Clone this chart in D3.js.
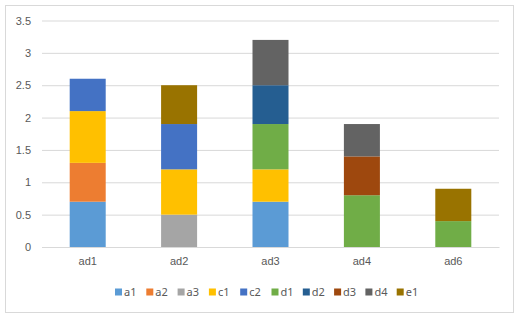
<!DOCTYPE html>
<html><head><meta charset="utf-8">
<script src="https://cdnjs.cloudflare.com/ajax/libs/d3/7.8.5/d3.min.js"></script>
<style>body{margin:0;background:#fff;}svg{display:block;font-family:"Noto Sans","DejaVu Sans",sans-serif;}</style>
</head><body>
<svg id="c" width="518" height="318"></svg>
<script>
const categories = ["ad1","ad2","ad3","ad4","ad6"];
const seriesNames = ["a1","a2","a3","c1","c2","d1","d2","d3","d4","e1"];
const seriesColors = ["#5B9BD5","#ED7D31","#A5A5A5","#FFC000","#4472C4","#70AD47","#255E91","#9E480E","#636363","#997300"];
// values per series across categories
const a1 = [0.7, 0,   0.7, 0,   0];
const a2 = [0.6, 0,   0,   0,   0];
const a3 = [0,   0.5, 0,   0,   0];
const c1 = [0.8, 0.7, 0.5, 0,   0];
const c2 = [0.5, 0.7, 0,   0,   0];
const d1 = [0,   0,   0.7, 0.8, 0.4];
const d2 = [0,   0,   0.6, 0,   0];
const d3v = [0,   0,   0,   0.6, 0];
const d4 = [0,   0,   0.7, 0.5, 0];
const e1 = [0,   0.6, 0,   0,   0.5];
const yTicks = [0,0.5,1,1.5,2,2.5,3,3.5];

const seriesValues = [a1,a2,a3,c1,c2,d1,d2,d3v,d4,e1];
// manual stacking
const segs = [];
categories.forEach((c,i)=>{
  let base = 0;
  seriesNames.forEach((s,j)=>{
    const v = seriesValues[j][i];
    if (v > 0) { segs.push({cat:c, key:s, y0:base, y1:base+v}); base += v; }
  });
});

const svg = d3.select("#c");
svg.append("rect").attr("x",5.5).attr("y",5.5).attr("width",508).attr("height",307)
  .attr("fill","#fff").attr("stroke","#D9D9D9");

const x = d3.scaleBand().domain(categories).range([42,499]).paddingInner(0.606).paddingOuter(0.303);
const y = d3.scaleLinear().domain([0,3.5]).range([247,20.5]);
const color = d3.scaleOrdinal().domain(seriesNames).range(seriesColors);

const yAxis = svg.append("g").attr("transform","translate(42,0)")
  .call(d3.axisLeft(y).tickValues(yTicks).tickSize(-457).tickPadding(11).tickFormat(d=>String(d)));
yAxis.select(".domain").remove();
yAxis.selectAll(".tick line").attr("stroke","#D9D9D9");
yAxis.selectAll(".tick text").attr("fill","#595959").style("font-size","11px");

svg.append("g").selectAll("rect").data(segs).join("rect")
  .attr("fill",d=>color(d.key))
  .attr("x",d=>x(d.cat)).attr("width",x.bandwidth())
  .attr("y",d=>y(d.y1)).attr("height",d=>y(d.y0)-y(d.y1));

const xAxis = svg.append("g").attr("transform","translate(0,247)")
  .call(d3.axisBottom(x).tickSize(0).tickPadding(10));
xAxis.select(".domain").attr("stroke","#D9D9D9");
xAxis.selectAll(".tick text").attr("fill","#595959").style("font-size","11px");

const leg = svg.append("g").selectAll("g").data(seriesNames).join("g")
  .attr("transform",(d,i)=>`translate(${115+i*31.3},292)`);
leg.append("rect").attr("x",0).attr("y",-3.5).attr("width",7).attr("height",7).attr("fill",d=>color(d));
leg.append("text").attr("x",9).attr("dy","0.35em").attr("fill","#595959").style("font-size","11px").text(d=>d);
</script>
</body></html>
